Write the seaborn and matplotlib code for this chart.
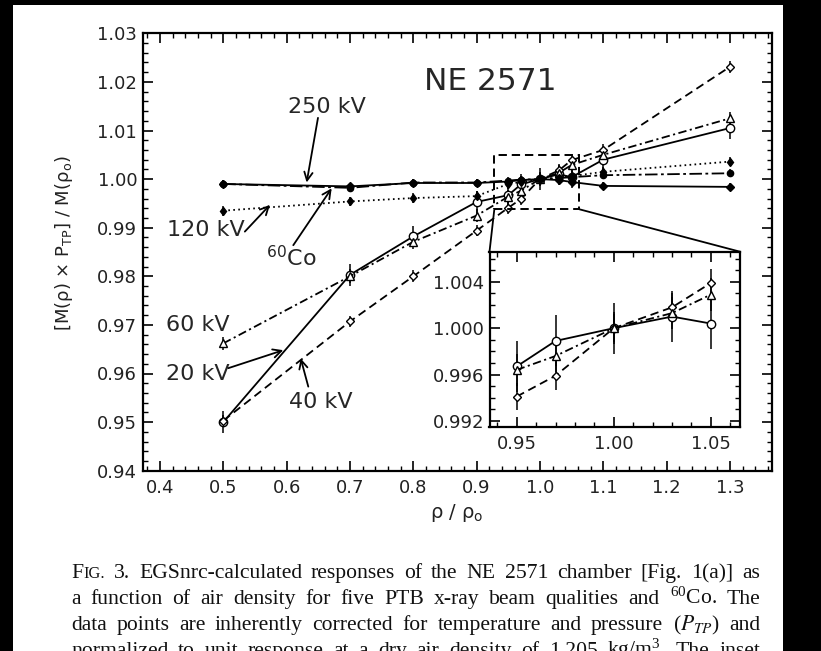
import numpy as np
import pandas as pd
import seaborn as sns
import matplotlib.pyplot as plt
from matplotlib.patches import Rectangle, ConnectionPatch
from matplotlib.ticker import MultipleLocator, FormatStrFormatter

# air density ratio rho / rho_o
rho = [0.5, 0.7, 0.8, 0.9, 0.95, 0.97, 1.00, 1.03, 1.05, 1.1, 1.3]

# normalised chamber response
kv20 = [0.9500, 0.9803, 0.9882, 0.9953, 0.9967, 0.9989, 1.0000, 1.0010, 1.0004, 1.0040, 1.0105]
kv40 = [0.9503, 0.9707, 0.9800, 0.9894, 0.9941, 0.9959, 1.0000, 1.0018, 1.0039, 1.0060, 1.0231]
kv60 = [0.9662, 0.9800, 0.9871, 0.9925, 0.9964, 0.9976, 1.0000, 1.0013, 1.0029, 1.0050, 1.0125]
kv120 = [0.9935, 0.9954, 0.9961, 0.9965, 0.9990, 0.9994, 1.0000, 1.0003, 1.0006, 1.0015, 1.0036]
kv250 = [0.9990, 0.9985, 0.9992, 0.9992, 0.9995, 0.9998, 1.0000, 0.9998, 0.9994, 0.9986, 0.9984]
co60 = [0.9990, 0.9982, 0.9993, 0.9993, 0.9997, 0.9999, 1.0000, 1.0002, 1.0004, 1.0008, 1.0012]

# statistical uncertainties (one sigma)
err20 = [0.0022] * 11
err40 = [0.0012] * 11
err60 = [0.0014] * 11
err120 = [0.0010] * 11
err250 = [0.0008] * 11
errco = [0.0008] * 11

beams = ["20 kV", "40 kV", "60 kV", "120 kV", "250 kV", "60Co"]
inset_beams = ["20 kV", "40 kV", "60 kV"]
values = [kv20, kv40, kv60, kv120, kv250, co60]
errors = [err20, err40, err60, err120, err250, errco]

caption = [
    "FIG. 3. EGSnrc-calculated responses of the NE 2571 chamber [Fig. 1(a)] as",
    "a function of air density for five PTB x-ray beam qualities and $^{60}$Co. The",
    "data points are inherently corrected for temperature and pressure ($\\mathit{P}_{\\mathit{TP}}$) and",
    "normalized to unit response at a dry air density of 1.205 kg/m$^3$. The inset",
]

df = pd.concat(
    [pd.DataFrame({"rho": rho, "resp": v, "err": e, "beam": b})
     for b, v, e in zip(beams, values, errors)],
    ignore_index=True,
)

styles = {
    "20 kV": dict(ls="-", marker="o", mfc="white", ms=6),
    "40 kV": dict(ls=(0, (6, 3.5)), marker="D", mfc="white", ms=4.5),
    "60 kV": dict(ls=(0, (6, 2.5, 1.5, 2.5)), marker="^", mfc="white", ms=6),
    "120 kV": dict(ls=(0, (1.2, 2.4)), marker="d", mfc="black", ms=4.5),
    "250 kV": dict(ls="-", marker="D", mfc="black", ms=4.5),
    "60Co": dict(ls=(0, (9, 2.5, 2, 2.5)), marker="o", mfc="black", ms=4.5),
}

sns.set_style("ticks")
plt.rcParams["font.family"] = ["DejaVu Sans"]
plt.rcParams["lines.scale_dashes"] = False
plt.rcParams["mathtext.default"] = "regular"

W, H = 821, 651
fig = plt.figure(figsize=(W / 100, H / 100), dpi=100, facecolor="black")
fig.add_artist(Rectangle((13 / W, 0), 770 / W, 1 - 5 / H, transform=fig.transFigure,
                         facecolor="white", edgecolor="none", zorder=-10))

ax = fig.add_axes([142.7 / W, 1 - 470.7 / H, 629 / W, 437.4 / H])
axin = fig.add_axes([489.5 / W, 1 - 426.7 / H, 250.5 / W, 175 / H])


def draw_series(axis, data, names):
    for b in names:
        sub = data[data["beam"] == b]
        st = styles[b]
        axis.errorbar(sub["rho"], sub["resp"], yerr=sub["err"], fmt="none",
                      ecolor="black", elinewidth=1.1, capsize=0, zorder=1.5)
        sns.lineplot(data=sub, x="rho", y="resp", ax=axis, color="black",
                     linestyle=st["ls"], linewidth=1.3, marker=st["marker"],
                     markersize=st["ms"], markerfacecolor=st["mfc"],
                     markeredgecolor="black", markeredgewidth=1.0,
                     estimator=None, sort=False, legend=False, zorder=2)


draw_series(ax, df, beams)
inset_df = df[(df["rho"] >= 0.95) & (df["rho"] <= 1.05)]
draw_series(axin, inset_df, inset_beams)

# main axes
ax.set_xlim(0.3727, 1.366)
ax.set_ylim(0.94, 1.03)
ax.xaxis.set_major_locator(MultipleLocator(0.1))
ax.xaxis.set_minor_locator(MultipleLocator(0.02))
ax.yaxis.set_major_locator(MultipleLocator(0.01))
ax.yaxis.set_minor_locator(MultipleLocator(0.002))
ax.xaxis.set_major_formatter(FormatStrFormatter("%.1f"))
ax.yaxis.set_major_formatter(FormatStrFormatter("%.2f"))

# inset
axin.set_xlim(0.936, 1.065)
axin.set_ylim(0.9915, 1.0066)
axin.set_xticks([0.95, 1.00, 1.05])
axin.set_yticks([0.992, 0.996, 1.000, 1.004])
axin.xaxis.set_minor_locator(MultipleLocator(0.01))
axin.yaxis.set_minor_locator(MultipleLocator(0.001))
axin.xaxis.set_major_formatter(FormatStrFormatter("%.2f"))
axin.yaxis.set_major_formatter(FormatStrFormatter("%.3f"))
axin.set_facecolor("white")

for a in (ax, axin):
    a.set_xlabel("")
    a.set_ylabel("")
    a.tick_params(which="both", direction="in", top=True, right=True,
                  color="black", labelcolor="#222222", labelsize=13)
    a.tick_params(which="major", length=7, width=1.2)
    a.tick_params(which="minor", length=3.5, width=1.0)
    a.tick_params(axis="x", pad=6)
    a.tick_params(axis="y", pad=4)
    for s in a.spines.values():
        s.set_linewidth(1.6)
        s.set_color("black")

ax.set_ylabel("[M(ρ) × P$_{TP}$] / M(ρ$_o$)", fontsize=13, color="#222222")
ax.yaxis.set_label_coords(-0.108, 0.52)
ax.set_xlabel("ρ / ρ$_o$", fontsize=14, color="#222222")
ax.xaxis.set_label_coords(0.5, -0.072)

# labels and arrows
ax.text(0.921, 1.0200, "NE 2571", fontsize=22.5, ha="center", va="center")
labels = [
    ("250 kV", 0.663, 1.0148),
    ("120 kV", 0.4723, 0.9895),
    ("$^{60}$Co", 0.6069, 0.9838),
    ("60 kV", 0.4592, 0.9700),
    ("20 kV", 0.4592, 0.9600),
    ("40 kV", 0.6539, 0.9542),
]
for txt, x, y in labels:
    ax.text(x, y, txt, fontsize=16, ha="center", va="center")

arrows = [
    ((0.6495, 1.0126), (0.6316, 0.9993)),
    ((0.5340, 0.9892), (0.5737, 0.9947)),
    ((0.6105, 0.9864), (0.6711, 0.9981)),
    ((0.5079, 0.9611), (0.5947, 0.9648)),
    ((0.6342, 0.9573), (0.6222, 0.9631)),
]
for tail, head in arrows:
    ax.annotate("", xy=head, xytext=tail,
                arrowprops=dict(arrowstyle="->,head_length=0.6,head_width=0.3",
                                lw=1.3, color="black", shrinkA=0, shrinkB=0))

# zoom box and connectors
ax.add_patch(Rectangle((0.928, 0.9938), 0.134, 0.0112, fill=False,
                       ls=(0, (6, 3.5)), lw=1.4, ec="black", zorder=3))
for xa, xb in ((0.928, 0.0), (1.062, 1.0)):
    fig.add_artist(ConnectionPatch(xyA=(xa, 0.9938), coordsA=ax.transData,
                                   xyB=(xb, 1.0), coordsB=axin.transAxes,
                                   lw=1.3, color="black"))

# caption, justified like the journal page ("FIG." set in small caps)
renderer = fig.canvas.get_renderer()
left, right = 71, 760
cap_fs = 15.6
for i, line in enumerate(caption):
    ybase = 1 - (578 + 26 * i) / H
    words = []
    for w in line.split(" "):
        pieces = [("F", cap_fs), ("IG.", cap_fs * 0.76)] if w == "FIG." else [(w, cap_fs)]
        texts = [fig.text(0, ybase, p, fontsize=fs, family="Liberation Serif",
                          math_fontfamily="stix", va="baseline", color="#111111")
                 for p, fs in pieces]
        widths = [t.get_window_extent(renderer).width for t in texts]
        words.append((texts, widths))
    total = sum(sum(ws) for _, ws in words)
    gap = (right - left - total) / (len(words) - 1)
    x = left
    for texts, widths in words:
        for t, w in zip(texts, widths):
            t.set_x(x / W)
            x += w
        x += gap

fig.savefig("out.png", dpi=100, facecolor=fig.get_facecolor())
